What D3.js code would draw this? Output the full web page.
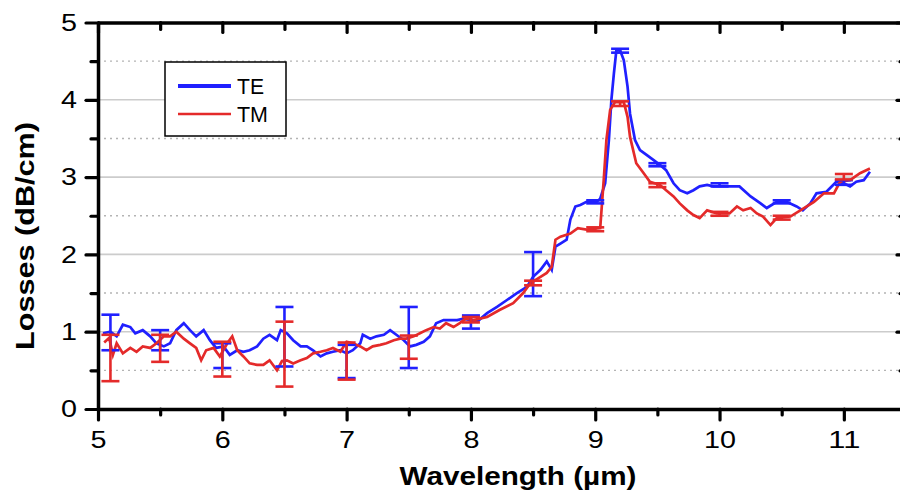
<!DOCTYPE html>
<html>
<head>
<meta charset="utf-8">
<script src="https://cdn.jsdelivr.net/npm/d3@7"></script>
<style>
  body { margin: 0; background: #fff; }
  svg { display: block; font-family: "Liberation Sans", Arial, sans-serif; }
</style>
</head>
<body>
<script>
// TE (blue) trace
var teX = [5.04,5.10,5.15,5.20,5.26,5.30,5.36,5.42,5.47,5.53,5.58,5.63,5.69,5.74,5.79,5.85,5.90,5.95,6.01,6.06,
  6.12,6.17,6.22,6.28,6.33,6.38,6.44,6.47,6.52,6.57,6.63,6.68,6.73,6.79,6.84,6.89,6.95,7.00,7.05,7.11,
  7.13,7.19,7.24,7.30,7.35,7.40,7.46,7.51,7.56,7.62,7.67,7.72,7.78,7.83,7.89,7.94,8.00,8.05,8.13,8.21,
  8.29,8.37,8.45,8.50,8.56,8.61,8.65,8.68,8.72,8.77,8.80,8.84,8.88,8.93,9.01,9.04,9.08,9.11,9.13,9.15,
  9.17,9.20,9.23,9.26,9.28,9.32,9.36,9.41,9.47,9.52,9.57,9.63,9.68,9.74,9.79,9.84,9.90,9.95,10.08,10.16,
  10.25,10.33,10.38,10.46,10.54,10.62,10.67,10.73,10.78,10.86,10.94,11.00,11.05,11.10,11.16,11.21];
var teY = [0.98,1.00,0.94,1.09,1.06,0.98,1.02,0.94,0.85,0.81,0.85,1.02,1.11,1.02,0.94,1.02,0.89,0.79,0.81,0.70,
  0.76,0.74,0.76,0.81,0.91,0.96,0.89,1.02,0.98,0.89,0.81,0.81,0.76,0.68,0.72,0.74,0.76,0.72,0.76,0.85,
  0.96,0.91,0.94,0.96,1.02,0.96,0.89,0.81,0.83,0.87,0.94,1.11,1.15,1.15,1.15,1.17,1.15,1.13,1.24,1.32,
  1.41,1.50,1.58,1.71,1.80,1.91,1.80,2.10,2.14,2.19,2.45,2.62,2.64,2.68,2.68,2.72,2.92,3.48,4.00,4.34,
  4.64,4.64,4.51,4.17,3.82,3.48,3.35,3.29,3.22,3.16,3.09,2.92,2.83,2.79,2.83,2.88,2.90,2.88,2.88,2.88,
  2.75,2.66,2.60,2.68,2.68,2.62,2.57,2.66,2.79,2.81,2.94,2.92,2.88,2.94,2.96,3.07];

// TM (red) trace
var tmX = [5.05,5.09,5.12,5.15,5.20,5.26,5.31,5.36,5.42,5.47,5.53,5.58,5.63,5.69,5.74,5.79,5.83,5.87,5.93,5.98,
  6.04,6.08,6.12,6.17,6.22,6.28,6.33,6.38,6.44,6.48,6.52,6.57,6.63,6.68,6.73,6.79,6.84,6.89,6.95,7.00,
  7.05,7.11,7.16,7.21,7.27,7.32,7.38,7.43,7.48,7.54,7.59,7.64,7.70,7.75,7.80,7.86,7.91,7.96,8.02,8.13,
  8.23,8.34,8.42,8.48,8.56,8.61,8.65,8.68,8.72,8.80,8.86,8.93,9.04,9.07,9.09,9.12,9.16,9.23,9.26,9.28,
  9.33,9.39,9.44,9.52,9.57,9.63,9.68,9.74,9.79,9.84,9.90,9.98,10.08,10.14,10.19,10.25,10.30,10.35,10.41,10.46,
  10.57,10.65,10.76,10.84,10.92,10.97,11.05,11.13,11.21];
var tmY = [0.86,0.92,0.70,0.85,0.72,0.79,0.74,0.81,0.79,0.85,0.94,0.94,1.00,0.91,0.85,0.79,0.63,0.76,0.79,0.68,
  0.85,0.94,0.76,0.68,0.59,0.57,0.57,0.63,0.50,0.62,0.63,0.59,0.63,0.66,0.72,0.74,0.76,0.79,0.74,0.87,
  0.85,0.81,0.76,0.81,0.83,0.85,0.89,0.91,0.91,0.94,0.98,1.02,1.06,1.04,1.11,1.06,1.11,1.17,1.15,1.19,
  1.28,1.37,1.50,1.63,1.71,1.76,1.84,2.19,2.23,2.27,2.34,2.32,2.34,3.00,3.48,3.87,3.97,3.97,3.78,3.52,
  3.18,3.05,2.94,2.90,2.83,2.75,2.66,2.57,2.51,2.47,2.57,2.53,2.53,2.62,2.57,2.60,2.53,2.49,2.38,2.47,
  2.49,2.57,2.68,2.79,2.79,2.94,2.96,3.05,3.11];

// error bars
var ebX  = [5.1, 5.5, 6.0, 6.5, 7.0, 7.5, 8.0, 8.5, 9.0, 9.2, 9.5, 10.0, 10.5, 11.0];
var teLo = [0.76,0.76,0.53,0.55,0.40,0.53,1.04,1.46,2.66,4.61,3.14,2.88,2.66,2.90];
var teHi = [1.22,1.02,0.85,1.32,0.83,1.32,1.21,2.03,2.70,4.66,3.18,2.92,2.70,2.96];
var tmLo = [0.36,0.61,0.42,0.29,0.38,0.65,1.12,1.60,2.30,3.92,2.87,2.50,2.45,2.97];
var tmHi = [0.96,0.96,0.87,1.13,0.86,0.95,1.19,1.66,2.35,3.98,2.92,2.55,2.50,3.04];

var xMajor = [5, 6, 7, 8, 9, 10, 11];
var xMinor = [5.5, 6.5, 7.5, 8.5, 9.5, 10.5, 11.5];
var yMajor = [0, 1, 2, 3, 4, 5];
var yMinor = [0.5, 1.5, 2.5, 3.5, 4.5];

var seriesNames = ["TE", "TM"];
var blue = "#2020ff", red = "#e42a2a";

var width = 900, height = 497;

var x = d3.scaleLinear().domain([5, 11.5]).range([98, 906]);
var y = d3.scaleLinear().domain([0, 5]).range([409, 22.5]);
var fmt = d3.format("d");

var svg = d3.select("body").append("svg")
    .attr("width", width)
    .attr("height", height);

// grid
svg.append("g").selectAll("line")
    .data(yMinor).enter().append("line")
    .attr("x1", x(5)).attr("x2", x(11.5))
    .attr("y1", function(d){ return y(d); }).attr("y2", function(d){ return y(d); })
    .attr("stroke", "#b4b4b4").attr("stroke-width", 1.4)
    .attr("stroke-dasharray", "2,4");
svg.append("g").selectAll("line")
    .data([1, 2, 3, 4]).enter().append("line")
    .attr("x1", x(5)).attr("x2", x(11.5))
    .attr("y1", function(d){ return y(d); }).attr("y2", function(d){ return y(d); })
    .attr("stroke", "#cccccc").attr("stroke-width", 1.6);

// curves
var line = d3.line()
    .x(function(d){ return x(d[0]); })
    .y(function(d){ return y(d[1]); });

var te = d3.zip(teX, teY), tm = d3.zip(tmX, tmY);

svg.append("path").datum(te)
    .attr("d", line).attr("fill", "none")
    .attr("stroke", blue).attr("stroke-width", 2.7);
svg.append("path").datum(tm)
    .attr("d", line).attr("fill", "none")
    .attr("stroke", red).attr("stroke-width", 2.7);

function errorBars(lo, hi, color){
  var g = svg.append("g").attr("stroke", color).attr("stroke-width", 2.6);
  ebX.forEach(function(v, i){
    var cx = x(v);
    g.append("line").attr("x1", cx).attr("x2", cx).attr("y1", y(lo[i])).attr("y2", y(hi[i]));
    g.append("line").attr("x1", cx - 9).attr("x2", cx + 9).attr("y1", y(lo[i])).attr("y2", y(lo[i]));
    g.append("line").attr("x1", cx - 9).attr("x2", cx + 9).attr("y1", y(hi[i])).attr("y2", y(hi[i]));
  });
}
errorBars(teLo, teHi, blue);
errorBars(tmLo, tmHi, red);

// axes
function styleAxis(g){
  g.selectAll(".domain").style("stroke-width", "3.5px");
  g.selectAll(".tick line").style("stroke-width", "3.2px").style("stroke-linecap", "round");
}

var gl = svg.append("g").attr("transform", "translate(" + x(5) + ",0)")
    .call(d3.axisLeft(y).tickValues(yMajor).tickFormat(fmt).tickSize(12).tickPadding(9).tickSizeOuter(0));
gl.append("g").call(d3.axisLeft(y).tickValues(yMinor).tickSize(7).tickFormat(""))
  .call(function(g){ g.select(".domain").remove(); });
styleAxis(gl);

var gb = svg.append("g").attr("transform", "translate(0," + y(0) + ")")
    .call(d3.axisBottom(x).tickValues(xMajor).tickFormat(fmt).tickSize(11).tickPadding(11).tickSizeOuter(0));
gb.append("g").call(d3.axisBottom(x).tickValues(xMinor).tickSize(6).tickFormat(""))
  .call(function(g){ g.select(".domain").remove(); });
styleAxis(gb);

var gt = svg.append("g").attr("transform", "translate(0," + y(5) + ")")
    .call(d3.axisTop(x).tickValues(xMajor).tickSize(-10).tickFormat("").tickSizeOuter(0));
gt.append("g").call(d3.axisTop(x).tickValues(xMinor).tickSize(-7).tickFormat(""))
  .call(function(g){ g.select(".domain").remove(); });
styleAxis(gt);

var gr = svg.append("g").attr("transform", "translate(" + x(11.5) + ",0)")
    .call(d3.axisRight(y).tickValues(yMajor).tickSize(-9).tickFormat("").tickSizeOuter(0));
gr.append("g").call(d3.axisRight(y).tickValues(yMinor).tickSize(-6).tickFormat(""))
  .call(function(g){ g.select(".domain").remove(); });
styleAxis(gr);

svg.selectAll(".tick text")
    .attr("font-size", 24)
    .attr("font-family", "Liberation Sans, Arial, sans-serif")
    .attr("fill", "#000")
    .attr("lengthAdjust", "spacingAndGlyphs")
    .attr("textLength", function(d){ return fmt(d).length * 16; });

// axis titles
svg.append("text")
    .attr("transform", "translate(34,236) rotate(-90)")
    .attr("text-anchor", "middle")
    .attr("font-size", 25).attr("font-weight", "bold")
    .attr("lengthAdjust", "spacingAndGlyphs").attr("textLength", 228)
    .text("Losses (dB/cm)");

svg.append("text")
    .attr("x", 518).attr("y", 485)
    .attr("text-anchor", "middle")
    .attr("font-size", 25).attr("font-weight", "bold")
    .attr("lengthAdjust", "spacingAndGlyphs").attr("textLength", 237)
    .text("Wavelength (\u00b5m)");

// legend
var lg = svg.append("g");
lg.append("rect")
    .attr("x", 165).attr("y", 62).attr("width", 121).attr("height", 74)
    .attr("fill", "#fff").attr("stroke", "#000").attr("stroke-width", 1.5);
var legendColors = [blue, red], legendWidths = [4, 2.6];
seriesNames.forEach(function(name, i){
  var ly = 86 + i * 28;
  lg.append("line")
      .attr("x1", 178).attr("x2", 231).attr("y1", ly).attr("y2", ly)
      .attr("stroke", legendColors[i]).attr("stroke-width", legendWidths[i]);
  lg.append("text")
      .attr("x", 237).attr("y", ly + 8)
      .attr("font-size", 22)
      .attr("lengthAdjust", "spacingAndGlyphs")
      .attr("textLength", name === "TE" ? 27 : 31)
      .text(name);
});
</script>
</body>
</html>
